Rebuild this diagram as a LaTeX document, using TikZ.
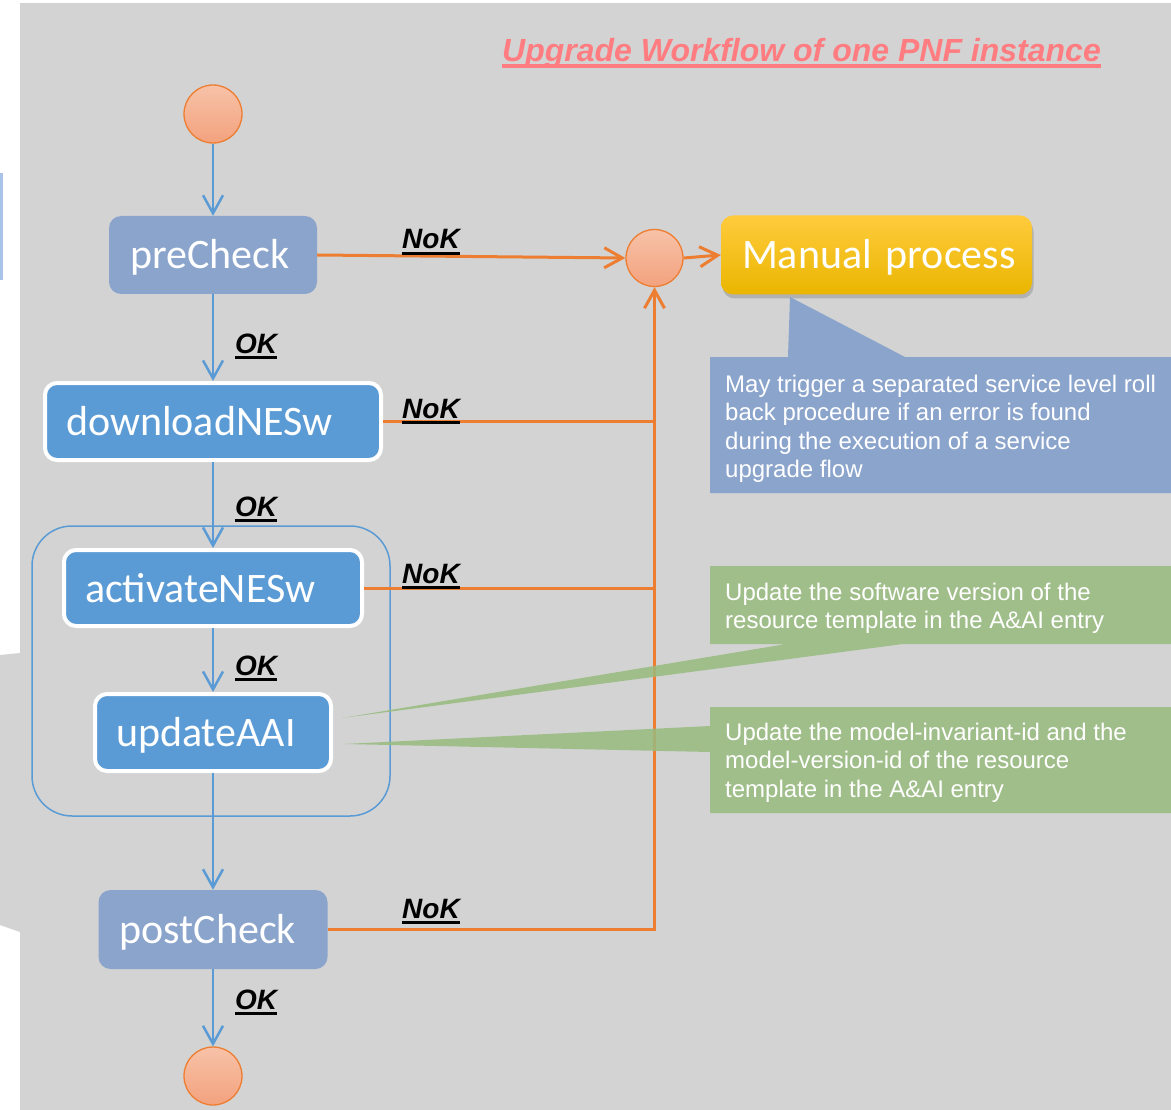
\documentclass[tikz,border=0pt]{standalone}
\usepackage{fontspec}
\setmainfont{Liberation Sans}
\newfontfamily\carlito{Carlito}
\usetikzlibrary{arrows.meta,shadows,calc}

\definecolor{panel}{HTML}{D3D3D3}
\definecolor{flowblue}{HTML}{5B9BD5}
\definecolor{checkblue}{HTML}{8BA4CC}
\definecolor{nokorange}{HTML}{ED7D31}
\definecolor{notegreen}{HTML}{98BB7E}
\definecolor{titlepink}{HTML}{FF7C80}
\definecolor{edgeblue}{HTML}{A9C3EA}
\definecolor{peachtop}{HTML}{F7C2A8}
\definecolor{peachbot}{HTML}{F3A27E}
\definecolor{goldtop}{HTML}{FFCB3D}
\definecolor{goldbot}{HTML}{EAB600}

% underlined label with a thick rule
\newsavebox\lblbox
\newcommand\ulined[2][3pt]{\sbox\lblbox{#2}\rlap{\rule[-6pt]{\wd\lblbox}{#1}}\usebox\lblbox}

\begin{document}
\begin{tikzpicture}[x=1pt,y=-1pt,
  terminal/.style={circle, minimum size=58pt, inner sep=0pt, draw=nokorange,
    line width=1.3pt, top color=peachtop, bottom color=peachbot},
  stepbase/.style={rounded corners=12pt, text=white,
    font=\carlito\fontsize{42}{50}\selectfont, inner xsep=21pt, inner ysep=0pt,
    text height=28pt, text depth=0pt, align=left},
  checkbox/.style={stepbase, fill=checkblue},
  taskbox/.style={stepbase, fill=flowblue, draw=white, line width=4pt},
  flow/.style={draw=flowblue, line width=2.5pt, -{Straight Barb[length=18pt,width=20pt]}},
  nok/.style={draw=nokorange, line width=3pt},
  nokarrow/.style={nok, -{Straight Barb[length=18pt,width=20pt]}},
  lbl/.style={font=\fontsize{28}{32}\selectfont\bfseries\itshape, anchor=base west, inner sep=0pt},
  % multi-line notes are placed by the baseline of their last line
  note/.style={text=white, font=\fontsize{24}{28.5}\selectfont, align=left,
    anchor=base west, inner sep=0pt},
]
% page and panel
\fill[white] (0,0) rectangle (1171,1110);
\useasboundingbox (0,0) rectangle (1171,1110);
\fill[panel] (20,3) rectangle (1171,1110);
\fill[edgeblue] (0,173) rectangle (3,280);
\fill[panel] (0,655) -- (20,653) -- (20,932) -- (0,925) -- cycle;

% group frame around activation and inventory update
\node[draw=flowblue, line width=1.5pt, rounded corners=40pt, minimum width=358pt,
  minimum height=290pt, inner sep=0pt] (grp) at (211,671) {};

% terminals
\node[terminal] (start) at (213,114) {};
\node[terminal] (finish) at (213,1076) {};
\node[terminal, minimum size=57pt] (join) at (654.5,258) {};

% workflow steps
\node[checkbox, text width=166pt, minimum height=78pt] (pre) at (213,255) {preCheck};
\node[taskbox, text width=294pt, minimum height=77pt] (dl) at (213,421.5) {downloadNESw};
\node[taskbox, text width=256pt, minimum height=76pt] (act) at (213,588) {activateNESw};
\node[taskbox, text width=194pt, minimum height=77pt] (aai) at (213,732.5) {updateAAI};
\node[checkbox, text width=187pt, minimum height=79pt] (post) at (213,929.5) {postCheck};

\node[stepbase, top color=goldtop, bottom color=goldbot, text width=269pt, minimum height=79pt,
  drop shadow={shadow xshift=1.5pt, shadow yshift=-4pt, opacity=.25, fill=black!70}]
  (manual) at (876.5,255) {\mbox{Manual process}};

% success path
\draw[flow] (start) -- (pre);
\draw[flow] (pre) -- (dl);
\draw[flow] (dl) -- (act);
\draw[flow] (act) -- (aai);
\draw[flow] (aai) -- (post);
\draw[flow] (post) -- (finish);

% failure path
\draw[nokarrow] (pre.east) -- (join.west);
\draw[nokarrow] (post.east) -- (post.east -| join.south) -- (join.south);
\draw[nok] (dl.east) -- (dl.east -| join.south);
\draw[nok] (act.east) -- (act.east -| join.south);
\draw[nokarrow] (join.east) -- (manual.west);

% notes
\fill[checkblue] (710,357) -- (788,357) -- (790,297) -- (905,357) -- (1171,357)
  -- (1171,493) -- (710,493) -- cycle;
\node[note] (noteroll) at (725,477.5) {May trigger a separated service level roll\\
  back procedure if an error is found\\during the execution of a service\\upgrade flow};

\fill[notegreen, fill opacity=.85] (710,566) -- (1171,566) -- (1171,644) -- (903,644)
  -- (342,718) -- (786,644) -- (710,644) -- cycle;
\node[note] (notesw) at (725,628.5) {Update the software version of the\\
  resource template in the A\&AI entry};

\fill[notegreen, fill opacity=.85] (710,707) -- (1171,707) -- (1171,813) -- (710,813)
  -- (710,752) -- (344,744) -- (710,726) -- cycle;
\node[note] (noteid) at (725,797) {Update the model-invariant-id and the\\
  model-version-id of the resource\\template in the A\&AI entry};

% branch labels
\node[lbl] (okA) at (235,353) {\ulined{OK}};
\node[lbl] (okB) at (235,516) {\ulined{OK}};
\node[lbl] (okC) at (235,675) {\ulined{OK}};
\node[lbl] (okD) at (235,1009) {\ulined{OK}};
\node[lbl] (nokA) at (402,249) {\ulined{NoK}};
\node[lbl] (nokB) at (402,418) {\ulined{NoK}};
\node[lbl] (nokC) at (402,583) {\ulined{NoK}};
\node[lbl] (nokD) at (402,918) {\ulined{NoK}};

% title
\node[anchor=base west, inner sep=0pt, text=titlepink,
  font=\fontsize{32}{38}\selectfont\bfseries\itshape] (title) at (502,62)
  {\ulined[3.5pt]{Upgrade Workflow of one PNF instance}};
\end{tikzpicture}
\end{document}
